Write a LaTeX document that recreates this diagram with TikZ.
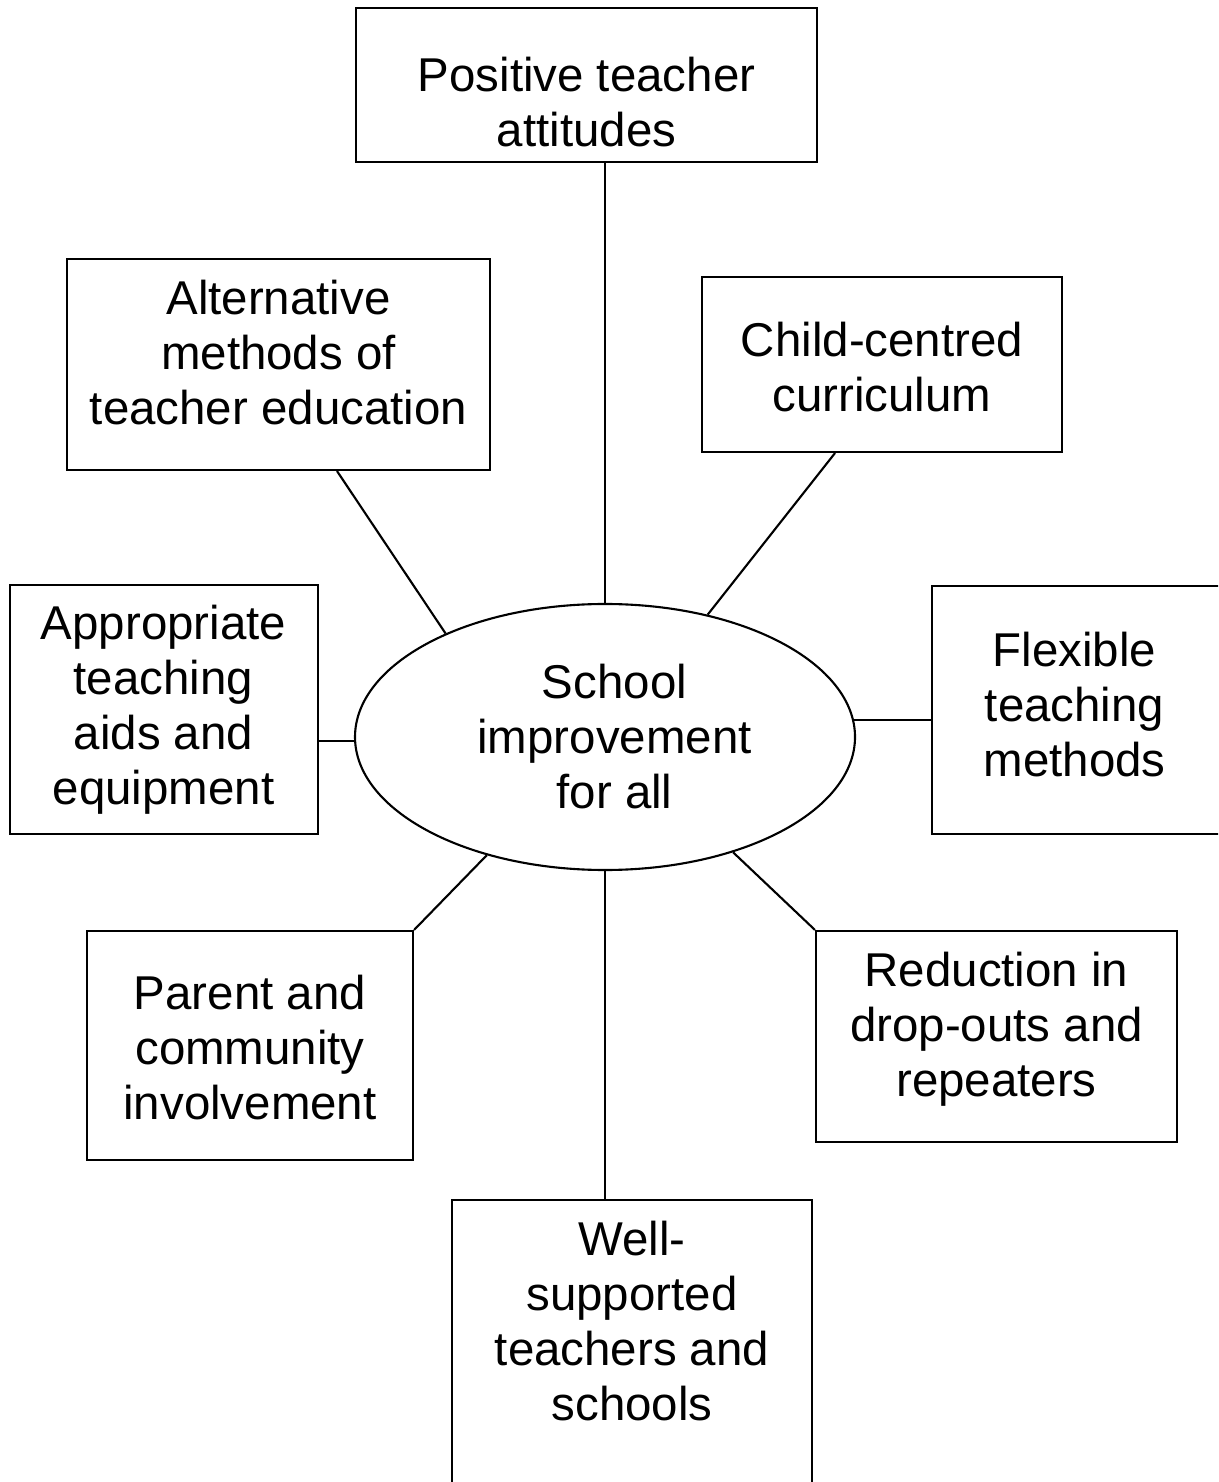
\documentclass[tikz,border=0pt]{standalone}
\usepackage{fontspec}
\setmainfont{Liberation Sans}
\usetikzlibrary{shapes.geometric}
\tikzset{
  box/.style={draw, rectangle, inner sep=0pt},
  lbl/.style={align=center, inner sep=0pt, font=\fontsize{13.5}{15.65}\selectfont},
  hub/.style={draw, ellipse, inner sep=0pt, minimum width=5cm, minimum height=2.66cm},
}
\begin{document}
\begin{tikzpicture}[line width=0.6pt]
  \useasboundingbox (0,0) rectangle (12.18,-14.82);
  \clip (0,0) rectangle (12.18,-14.82);
  % centre
  \node[hub] (c) at (6.05,-7.37) {};
  \node[lbl] (ct) at (6.145,-7.37) {School\\improvement\\for all};
  % boxes
  \node[box, minimum width=4.61cm, minimum height=1.54cm] (top) at (5.865,-0.85) {};
  \node[lbl] (topt) at (5.865,-1.025) {Positive teacher\\attitudes};
  \node[box, minimum width=4.23cm, minimum height=2.11cm] (alt) at (2.785,-3.645) {};
  \node[lbl] (altt) at (2.785,-3.525) {Alternative\\methods of\\teacher education};
  \node[box, minimum width=3.60cm, minimum height=1.75cm] (child) at (8.82,-3.645) {};
  \node[lbl] (childt) at (8.82,-3.675) {Child-centred\\curriculum};
  \node[box, minimum width=3.08cm, minimum height=2.49cm] (app) at (1.64,-7.095) {};
  \node[lbl] (appt) at (1.635,-7.10) {Appropriate\\teaching\\aids and\\equipment};
  \node[box, minimum width=2.90cm, minimum height=2.48cm] (flex) at (10.77,-7.10) {};
  \node[lbl] (flext) at (10.745,-7.045) {Flexible\\teaching\\methods};
  \node[box, minimum width=3.26cm, minimum height=2.29cm] (par) at (2.50,-10.455) {};
  \node[lbl] (part) at (2.50,-10.475) {Parent and\\community\\involvement};
  \node[box, minimum width=3.61cm, minimum height=2.11cm] (red) at (9.965,-10.365) {};
  \node[lbl] (redt) at (9.965,-10.29) {Reduction in\\drop-outs and\\repeaters};
  \node[box, minimum width=3.60cm, minimum height=3.00cm] (well) at (6.32,-13.50) {};
  \node[lbl] (wellt) at (6.32,-13.215) {Well-\\supported\\teachers and\\schools};
  % spokes
  \draw (c.north) -- (c.north |- top.south);
  \draw (c.147) -- ([xshift=0.585cm]alt.south);
  \draw (c.50) -- ([xshift=-0.47cm]child.south);
  \draw (c.181) -- (c.181 -| app.east);
  \draw (c.4) -- (c.4 -| flex.west);
  \draw (c.225.5) -- (par.north east);
  \draw (c.318.6) -- (red.north west);
  \draw (c.south) -- (c.south |- well.north);
\end{tikzpicture}
\end{document}
